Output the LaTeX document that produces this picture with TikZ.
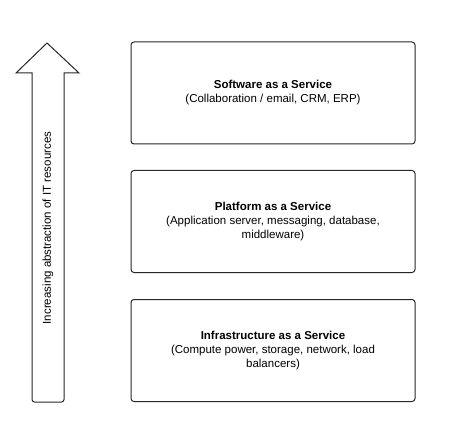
\documentclass[tikz,border=0pt]{standalone}
\usepackage{fontspec}
\setmainfont{Liberation Sans}

\begin{document}
\begin{tikzpicture}[x=1pt, y=-1pt,
  layer/.style={draw=black!85, line width=1pt, rounded corners=3pt,
    minimum width=284pt, minimum height=102pt, align=center,
    font=\fontsize{11.5}{14}\selectfont, inner sep=0pt}]

\useasboundingbox (0,0) rectangle (449,427) ;

\draw [line width=1pt, draw=black!85, line join=miter]
  (47,43) -- (79,73) -- (64,73) [rounded corners=2.5pt] -- (64,402) -- (32,402)
  [sharp corners] -- (32,73) -- (16,73) -- cycle ;

\node [rotate=90, font=\fontsize{11.5}{14}\selectfont] (abstraction) at (48,228)
  {Increasing abstraction of IT resources} ;

\node [layer] (saas) at (273,93)
  {\textbf{Software as a Service}\\(Collaboration / email, CRM, ERP)} ;
\node [layer] (paas) at (273,221.5)
  {\textbf{Platform as a Service}\\(Application server, messaging, database,\\middleware)} ;
\node [layer] (iaas) at (273,350.5)
  {\textbf{Infrastructure as a Service}\\(Compute power, storage, network, load\\balancers)} ;

\end{tikzpicture}
\end{document}
